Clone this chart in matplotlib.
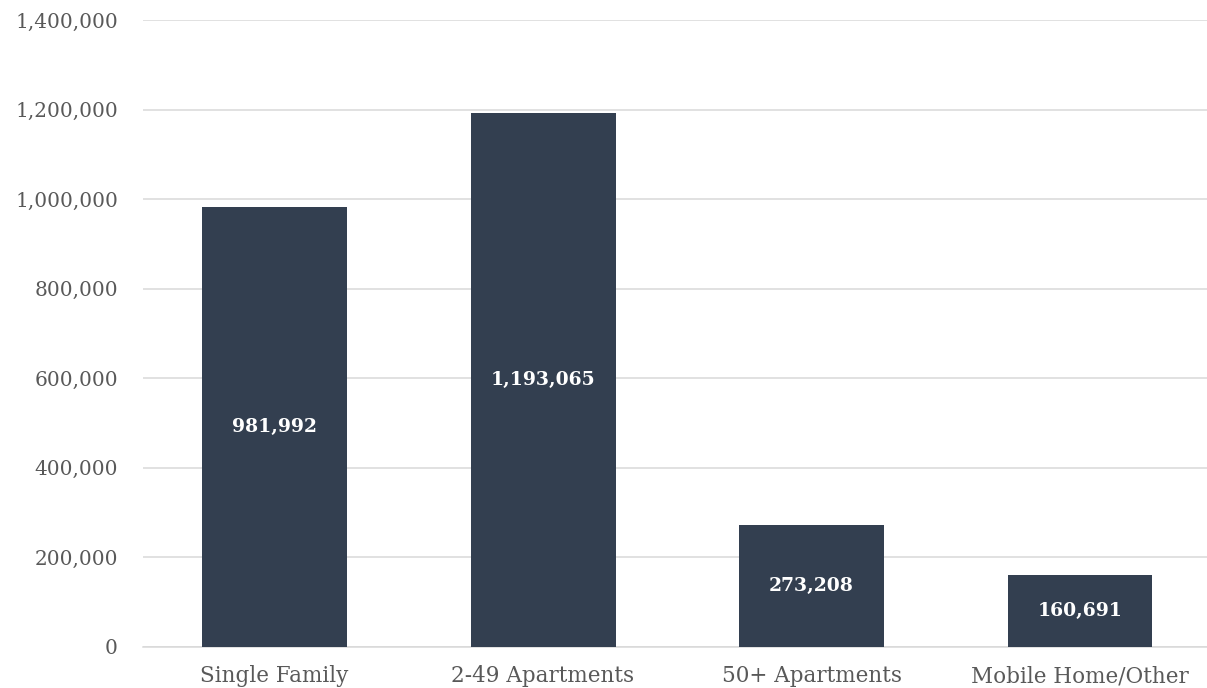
import matplotlib
matplotlib.use("Agg")
import matplotlib.pyplot as plt
from matplotlib.ticker import FuncFormatter

categories = ["Single Family", "2-49 Apartments", "50+ Apartments", "Mobile Home/Other"]
values = [981992, 1193065, 273208, 160691]
yticks = [0, 200000, 400000, 600000, 800000, 1000000, 1200000, 1400000]

plt.rcParams['font.family'] = ['DejaVu Serif']

fig = plt.figure(figsize=(12.07, 6.88), dpi=100)
ax = fig.add_axes([143/1207, (688-647)/688, (1207-143)/1207, (647-20)/688])

x = list(range(len(categories)))
bars = ax.bar(x, values, width=0.54, color="#333f50", zorder=3)
for xi, v in zip(x, values):
    ax.text(xi, v/2, f"{v:,}", ha="center", va="center", color="white",
            fontsize=13.5, fontweight="bold", zorder=4)

ax.set_xlim(-0.49, 3.473)
ax.set_ylim(0, 1400000)
ax.set_yticks(yticks)
ax.yaxis.set_major_formatter(FuncFormatter(lambda v, p: f"{int(v):,}"))
ax.set_xticks(x)
ax.set_xticklabels(categories)
ax.grid(axis="y", color="#d9d9d9", linewidth=1.1, zorder=0)
for s in ["top", "right", "left"]:
    ax.spines[s].set_visible(False)
ax.spines["bottom"].set_color("#d9d9d9")
ax.spines["bottom"].set_linewidth(1.1)
ax.tick_params(axis="both", length=0, colors="#595959")
ax.tick_params(axis="y", pad=18, labelsize=14.5)
ax.tick_params(axis="x", pad=13, labelsize=15.5)

fig.savefig("out.png", dpi=100)
